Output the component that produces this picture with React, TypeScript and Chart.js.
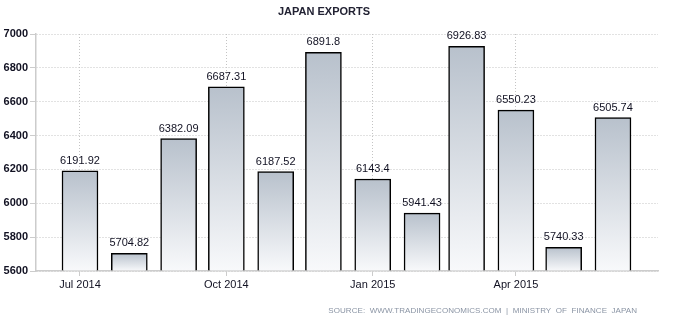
import React, { useEffect, useRef } from "react";
import { Chart, registerables } from "chart.js";

Chart.register(...registerables);

const categories = [
  "2014-07-01", "2014-08-01", "2014-09-01", "2014-10-01", "2014-11-01", "2014-12-01",
  "2015-01-01", "2015-02-01", "2015-03-01", "2015-04-01", "2015-05-01", "2015-06-01",
];
const exportsValues = [
  6191.92, 5704.82, 6382.09, 6687.31, 6187.52, 6891.8,
  6143.4, 5941.43, 6926.83, 6550.23, 5740.33, 6505.74,
];
const xTickLabels: Record<string, string> = {
  "2014-07-01": "Jul 2014",
  "2014-10-01": "Oct 2014",
  "2015-01-01": "Jan 2015",
  "2015-04-01": "Apr 2015",
};
const yTicks = [5600, 5800, 6000, 6200, 6400, 6600, 6800, 7000];

const DAY = 86400000;
const t0 = Date.UTC(2014, 6, 1);
const dayOf = (s: string) => {
  const [y, m, d] = s.split("-").map(Number);
  return Math.round((Date.UTC(y, m - 1, d) - t0) / DAY);
};

const FONT = "'Liberation Sans', Arial, sans-serif";

export default function App() {
  const ref = useRef<HTMLCanvasElement>(null);
  useEffect(() => {
    if (!ref.current) return;
    const points = categories.map((c, i) => ({ x: dayOf(c), y: exportsValues[i] }));
    const tickDays = Object.keys(xTickLabels).map(dayOf);
    const labelMap: Record<number, string> = {};
    Object.keys(xTickLabels).forEach((k) => (labelMap[dayOf(k)] = xTickLabels[k]));

    const overlay = {
      id: "overlay",
      afterDatasetsDraw(chart: any) {
        const ctx = chart.ctx;
        const meta = chart.getDatasetMeta(0);
        ctx.save();
        ctx.font = `11px ${FONT}`;
        ctx.fillStyle = "#111122";
        ctx.textAlign = "center";
        ctx.textBaseline = "alphabetic";
        meta.data.forEach((el: any, i: number) => {
          ctx.fillText(String(exportsValues[i]), el.x, el.y - 7);
        });
        ctx.restore();
      },
      afterDraw(chart: any) {
        const ctx = chart.ctx;
        ctx.save();
        ctx.font = `bold 11px ${FONT}`;
        ctx.fillStyle = "#222233";
        ctx.textAlign = "center";
        ctx.textBaseline = "middle";
        ctx.fillText("JAPAN EXPORTS", 324, 12);
        ctx.font = `8px ${FONT}`;
        ctx.fillStyle = "#8a94a4";
        ctx.textAlign = "right";
        (ctx as any).letterSpacing = "0.05px";
        ctx.fillText("SOURCE:  WWW.TRADINGECONOMICS.COM  |  MINISTRY  OF  FINANCE  JAPAN", 637, 311);
        ctx.restore();
      },
    };

    const chart = new Chart(ref.current, {
      type: "bar",
      data: {
        datasets: [
          {
            data: points as any,
            base: 5600,
            barThickness: 36,
            borderColor: "#000000",
            borderWidth: 1.5,
            borderSkipped: "start",
            backgroundColor: (ctx: any) => {
              const chart = ctx.chart;
              const area = chart.chartArea;
              if (!area) return "#c0c8d2";
              const v = ctx.raw && typeof ctx.raw === "object" ? ctx.raw.y : 7000;
              const top = chart.scales.y.getPixelForValue(v);
              const g = chart.ctx.createLinearGradient(0, top, 0, area.bottom);
              g.addColorStop(0, "#b8c1cc");
              g.addColorStop(1, "#f8f9fb");
              return g;
            },
          } as any,
        ],
      },
      options: {
        animation: false,
        responsive: false,
        maintainAspectRatio: false,
        layout: { padding: { left: 0, top: 34, right: 20, bottom: 0 } },
        plugins: { legend: { display: false }, tooltip: { enabled: false }, title: { display: false } },
        scales: {
          x: {
            type: "linear",
            offset: false,
            min: -27.65,
            max: 363.3,
            afterBuildTicks: (s: any) => {
              s.ticks = tickDays.map((v) => ({ value: v }));
            },
            afterFit: (s: any) => {
              s.height = 55;
            },
            ticks: {
              autoSkip: false,
              maxRotation: 0,
              padding: 2,
              color: "#111122",
              font: { family: FONT, size: 11 },
              callback: (v: any) => labelMap[v] ?? "",
            },
            grid: {
              color: "#c4c4c4",
              tickBorderDash: [],
              tickColor: "#cccccc",
              tickLength: 5,
              offset: false,
            } as any,
            border: { color: "#cccccc", width: 1.5, dash: [1, 2] },
          },
          y: {
            min: 5600,
            max: 7000,
            afterBuildTicks: (s: any) => {
              s.ticks = yTicks.map((v) => ({ value: v }));
            },
            afterFit: (s: any) => {
              s.width = 36;
            },
            ticks: {
              padding: 2,
              color: "#111122",
              font: { family: FONT, size: 11, weight: "bold" },
              callback: (v: any) => String(v),
            },
            grid: {
              color: "#c4c4c4",
              tickBorderDash: [],
              tickColor: "#cccccc",
              tickLength: 6,
            } as any,
            border: { color: "#cccccc", width: 1.5, dash: [1, 2] },
          },
        },
      },
      plugins: [overlay],
    });
    return () => chart.destroy();
  }, []);
  return (
    <div style={{ position: "absolute", left: 0, top: 0, width: 678, height: 326, background: "#fff" }}>
      <canvas ref={ref} width={678} height={326} style={{ width: 678, height: 326 }} />
    </div>
  );
}
